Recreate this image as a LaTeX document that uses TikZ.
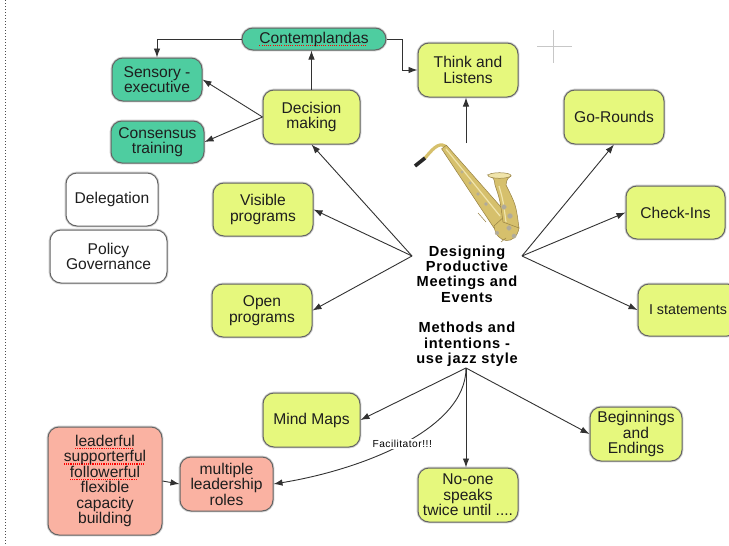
\documentclass[tikz,border=0pt]{standalone}
\usepackage{fontspec}
\setmainfont{Liberation Sans}
\newfontfamily\hubfont[LetterSpace=5]{Liberation Sans}
\usetikzlibrary{arrows.meta}

\definecolor{tealfill}{RGB}{78,205,160}
\definecolor{yelfill}{RGB}{230,248,125}
\definecolor{salfill}{RGB}{250,178,162}
\definecolor{boxline}{RGB}{100,100,100}
\definecolor{inkline}{RGB}{50,50,50}
\definecolor{textdark}{RGB}{30,30,30}
\definecolor{saxgold}{RGB}{214,192,108}
\definecolor{saxlight}{RGB}{240,228,170}
\definecolor{saxdark}{RGB}{150,128,66}
\definecolor{saxkey}{RGB}{175,170,155}

% red dotted spell-check underline
\newsavebox\spellbox
\newcommand\spellmark[1]{\sbox\spellbox{#1}%
  \rlap{\raisebox{-2.8pt}{\hbox to \wd\spellbox{\color{red}\leaders\hbox{\rule{1.1pt}{1.1pt}\kern1.1pt}\hfill}}}%
  \usebox\spellbox}
\newcommand\boxfont{\fontsize{15.6}{15.5}\selectfont}

\tikzset{
  box/.style={draw=boxline, line width=1pt, rounded corners=11pt, align=center,
    inner sep=1pt, font=\boxfont, text=textdark,
    preaction={draw=black!18, line width=2.8pt}},
  ynode/.style={box, fill=yelfill},
  tnode/.style={box, fill=tealfill},
  snode/.style={box, fill=salfill},
  wnode/.style={box, fill=white},
  arr/.style={draw=inkline, line width=0.9pt, -{Latex[length=9pt,width=6.5pt]}},
}

\begin{document}
\begin{tikzpicture}[x=1pt,y=-1pt]
\useasboundingbox (0,0) rectangle (729,546);
\fill[white] (0,0) rectangle (729,546);

% page margin marker and cursor cross
\draw[black!70, line width=0.8pt, dash pattern=on 1pt off 2pt] (5,0) -- (5,546);
\draw[black!22, line width=1pt] (553,30) -- (553,63) (537,46) -- (572,46);

% saxophone
\draw[saxgold, line width=3.2pt, line cap=round] (445,146) .. controls (438,142) and (432,150) .. (425,158);
\draw[black!85, line width=3.6pt] (425,158) -- (415,166);
\fill[saxgold, draw=saxdark, line width=0.5pt]
  (441.6,148.8) -- (446.4,145.2) -- (508,215) -- (494,228) -- cycle;
\fill[saxgold, draw=saxdark, line width=0.5pt]
  (494,226) .. controls (496,244) and (516,246) .. (519,228) -- (507,214) -- cycle;
\fill[saxgold, draw=saxdark, line width=0.5pt]
  (488,175) .. controls (494,178) .. (495,185) .. controls (500,200) .. (503,222)
  -- (519,228) .. controls (516,205) .. (506,185) .. controls (507,179) .. (511,176) -- cycle;
\fill[saxlight, draw=saxdark, line width=0.5pt] (499.5,175.5) ellipse [x radius=11.5pt, y radius=2.8pt];
\draw[saxlight, line width=1.2pt] (446,149) -- (500,216);
\draw[saxlight, line width=1.2pt] (499,186) .. controls (503,200) .. (506,222);
\foreach \kx/\ky/\kr in {462/172/1.4, 470/183/1.5, 478/194/1.6, 486/204/1.8,
  504/207/2.4, 510/216/2.6, 509/228/2.4, 514/236/2.2, 497/233/2}
  \fill[saxkey, draw=saxdark!60, line width=0.3pt] (\kx,\ky) circle [radius=\kr pt];
\draw[saxdark, line width=0.5pt] (478,213) -- (486,222) (501,242) -- (506,238);

% hub text and its connection points
\node[align=center, inner sep=0pt, text=black,
  font=\hubfont\bfseries\fontsize{14.6}{15.3}\selectfont] (hub) at (467,306)
  {Designing\\Productive\\Meetings and\\Events\\[15.3pt]Methods and\\intentions -\\use jazz style};
\coordinate (hubL) at (412,256);
\coordinate (hubR) at (522,256);
\coordinate (hubB) at (466,368);
\coordinate (hubT) at (466,143);

% nodes
\node[tnode, rounded corners=11pt, inner sep=0pt, minimum width=144pt, minimum height=22pt] (cont) at (314,39) {\spellmark{Contemplandas}};
\node[tnode, minimum width=90pt, minimum height=43pt] (sens) at (157,79.5) {Sensory -\\executive};
\node[tnode, minimum width=93pt, minimum height=42pt] (cons) at (157.5,142) {Consensus\\training};
\node[ynode, minimum width=97pt, minimum height=54pt] (dec) at (311.5,117) {Decision\\making};
\node[ynode, minimum width=100pt, minimum height=54pt] (think) at (468,70) {Think and\\Listens};
\node[ynode, minimum width=100pt, minimum height=54pt] (go) at (614,117) {Go-Rounds};
\node[ynode, minimum width=99pt, minimum height=53pt] (chk) at (675.5,212.5) {Check-Ins};
\node[ynode, minimum width=100pt, minimum height=52pt, font=\fontsize{14.3}{15.5}\selectfont] (ist) at (688,310) {I statements};
\node[ynode, minimum width=100pt, minimum height=53pt] (vis) at (263,209.5) {Visible\\programs};
\node[ynode, minimum width=100pt, minimum height=53pt] (open) at (262,310.5) {Open\\programs};
\node[wnode, minimum width=92pt, minimum height=53pt] (deleg) at (112,199.5) {Delegation};
\node[wnode, minimum width=117pt, minimum height=53pt] (policy) at (108.5,256.5) {Policy\\Governance};
\node[ynode, minimum width=97pt, minimum height=54pt] (mind) at (311.5,420) {Mind Maps};
\node[ynode, minimum width=92pt, minimum height=54pt] (beg) at (636,434) {Beginnings\\and\\Endings};
\node[ynode, minimum width=100pt, minimum height=54pt] (noone) at (468,495) {No-one\\speaks\\twice until ....};
\node[snode, minimum width=93pt, minimum height=54pt] (multi) at (226.5,484) {multiple\\leadership\\roles};
\node[snode, minimum width=114pt, minimum height=108pt] (lead) at (105,481)
  {\spellmark{leaderful}\\\spellmark{supporterful}\\\spellmark{followerful}\\flexible\\capacity\\building};

% connectors
\draw[arr] (cont.west) -| (sens.north);
\draw[arr] (cont.east) -- ++(16,0) |- (think.west);
\draw[arr] (dec.north) -- (dec.north |- cont.south);
\draw[arr] (dec.west) -- (sens.east);
\draw[arr] (dec.west) -- (cons.east);
\draw[arr] (hubT) -- (hubT |- think.south);
\draw[arr] (hubL) -- (dec.south);
\draw[arr] (hubL) -- (vis.east);
\draw[arr] (hubL) -- (open.east);
\draw[arr] (hubR) -- (go.south);
\draw[arr] (hubR) -- (chk.west);
\draw[arr] (hubR) -- (ist.west);
\draw[arr] (hubB) -- (mind.east);
\draw[arr] (hubB) -- (hubB |- noone.north);
\draw[arr] (hubB) -- (beg.west);
\draw[arr] (hubB) .. controls (466,430) and (360,470) .. (multi.east)
  node[pos=0.5, fill=white, inner sep=1pt, text=black,
       font=\hubfont\fontsize{10.2}{11}\selectfont] (facil) {Facilitator!!!};
\draw[arr] (lead.east) -- (multi.west);
\end{tikzpicture}
\end{document}
